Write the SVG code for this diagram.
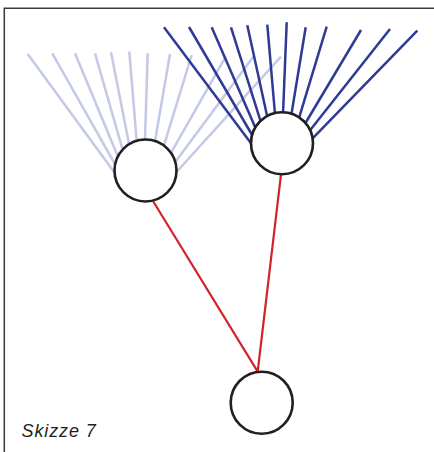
<svg xmlns="http://www.w3.org/2000/svg" width="434" height="452" viewBox="0 0 434 452">
<style>
.frame{stroke:#3a3a3a;stroke-width:1.5;fill:none}
.light line{stroke:#c3c9e6;stroke-width:2.5;stroke-linecap:butt}
.dark line{stroke:#2e3a94;stroke-width:2.5;stroke-linecap:butt}
.red{stroke:#d2232a;stroke-width:2.2;fill:none}
.node circle{fill:#fff;stroke:#231f20;stroke-width:2.6}
.label{font-family:"Liberation Sans",Arial,sans-serif;font-style:italic;font-size:18px;fill:#231f20;letter-spacing:0.9px}
</style>
<rect width="434" height="452" fill="#fff"/>
<path class="frame" d="M4.3,452 V8.3 H434"/>
<g id="connectors">
  <g class="light">
    <line x1="27.7" y1="54" x2="114.6" y2="172.7"/>
    <line x1="52.3" y1="53.3" x2="115.1" y2="164.3"/>
    <line x1="75" y1="53.3" x2="117.9" y2="156.4"/>
    <line x1="95" y1="53.3" x2="122.6" y2="149.6"/>
    <line x1="111" y1="52.3" x2="129.1" y2="144.2"/>
    <line x1="129.3" y1="51.7" x2="136.7" y2="140.8"/>
    <line x1="147.7" y1="53.3" x2="145" y2="139.5"/>
    <line x1="170" y1="54" x2="155" y2="141"/>
    <line x1="191.7" y1="55" x2="163.9" y2="145.6"/>
    <line x1="225.7" y1="56.7" x2="171" y2="152.8"/>
    <line x1="253.3" y1="56.7" x2="175.3" y2="162"/>
    <line x1="281" y1="56.7" x2="176.5" y2="172"/>
  </g>
  <g class="dark">
    <line x1="164" y1="27.3" x2="251" y2="143.2"/>
    <line x1="189" y1="27" x2="252.1" y2="135"/>
    <line x1="211.7" y1="27.3" x2="255.3" y2="127.4"/>
    <line x1="231" y1="27.3" x2="260.5" y2="120.9"/>
    <line x1="247.3" y1="25.3" x2="267.1" y2="116"/>
    <line x1="267.3" y1="24.7" x2="274.9" y2="113"/>
    <line x1="286.7" y1="22.3" x2="283.1" y2="112.2"/>
    <line x1="305.7" y1="27.3" x2="291.5" y2="113.7"/>
    <line x1="326.7" y1="26.7" x2="299.2" y2="117.4"/>
    <line x1="361" y1="30" x2="305.5" y2="123"/>
    <line x1="390" y1="29" x2="310.1" y2="130.2"/>
    <line x1="417.3" y1="30.7" x2="312.6" y2="138.4"/>
  </g>
  <line class="red" x1="153.3" y1="201.5" x2="257.7" y2="371.7"/>
  <line class="red" x1="281" y1="174.3" x2="257.7" y2="371.7"/>
</g>
<g id="node1" class="node"><circle cx="145.5" cy="170.5" r="31"/></g>
<g id="node2" class="node"><circle cx="282" cy="143.2" r="31"/></g>
<g id="node3" class="node"><circle cx="261.7" cy="402.7" r="31"/></g>
<text class="label" x="21.5" y="437">Skizze 7</text>
</svg>
